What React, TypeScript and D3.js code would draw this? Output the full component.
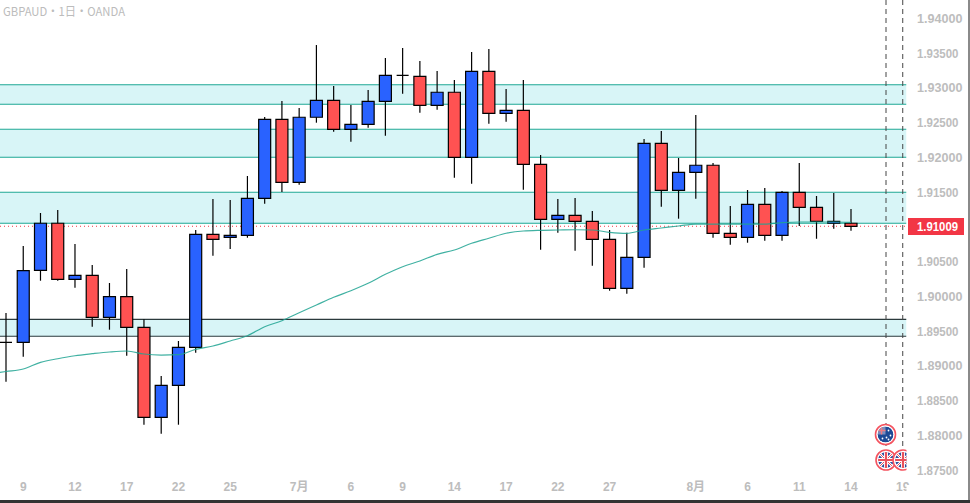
import React from 'react';
import * as d3 from 'd3';

// index of each candle, left to right (0 = first visible day)
const opens = [
  1.89338, 1.89338, 1.90375, 1.91052, 1.90245, 1.90303, 1.89698, 1.89995, 1.89554, 1.88258,
  1.88719, 1.89266, 1.90893, 1.90850, 1.90879, 1.91411, 1.92549, 1.91642, 1.92578, 1.92822,
  1.92405, 1.92477, 1.92808, 1.93182, 1.93168, 1.92750, 1.92938, 1.92002, 1.93240, 1.92635,
  1.92678, 1.91901, 1.91109, 1.91167, 1.91080, 1.90821, 1.90116, 1.90562, 1.92203, 1.91527,
  1.91786, 1.91887, 1.90908, 1.90850, 1.91325, 1.90879, 1.91498, 1.91282, 1.91052, 1.91052,
];
const closes = [
  1.89338, 1.90369, 1.91052, 1.90245, 1.90303, 1.89698, 1.89995, 1.89554, 1.88258, 1.88719,
  1.89266, 1.90893, 1.90821, 1.90879, 1.91411, 1.92549, 1.91642, 1.92578, 1.92822, 1.92405,
  1.92477, 1.92808, 1.93182, 1.93182, 1.92750, 1.92938, 1.92002, 1.93240, 1.92635, 1.92678,
  1.91901, 1.91109, 1.91167, 1.91080, 1.90821, 1.90116, 1.90562, 1.92203, 1.91527, 1.91786,
  1.91887, 1.90908, 1.90850, 1.91325, 1.90879, 1.91498, 1.91282, 1.91080, 1.91080, 1.91008,
];
const highs = [
  1.89760, 1.90725, 1.91200, 1.91243, 1.90754, 1.90451, 1.90192, 1.90394, 1.89669, 1.88853,
  1.89357, 1.90955, 1.91401, 1.91387, 1.91733, 1.92582, 1.92812, 1.92711, 1.93618, 1.93028,
  1.92755, 1.92971, 1.93431, 1.93575, 1.93388, 1.93244, 1.93115, 1.93518, 1.93561, 1.92985,
  1.93115, 1.92035, 1.91401, 1.91416, 1.91229, 1.90955, 1.90916, 1.92265, 1.92380, 1.91992,
  1.92611, 1.91920, 1.91301, 1.91531, 1.91560, 1.91517, 1.91920, 1.91445, 1.91488, 1.91257,
];
const lows = [
  1.88771, 1.89131, 1.90225, 1.90225, 1.90124, 1.89563, 1.89520, 1.89145, 1.88152, 1.88022,
  1.88152, 1.89189, 1.90585, 1.90682, 1.90844, 1.91334, 1.91502, 1.91607, 1.92500, 1.92370,
  1.92226, 1.92428, 1.92313, 1.92917, 1.92644, 1.92687, 1.91708, 1.91622, 1.92485, 1.92514,
  1.91535, 1.90671, 1.90916, 1.90657, 1.90441, 1.90081, 1.90038, 1.90412, 1.91291, 1.91118,
  1.91406, 1.90844, 1.90743, 1.90772, 1.90801, 1.90801, 1.91013, 1.90830, 1.90974, 1.90945,
];

// moving average, starts one day before the first candle
const maValues = [
  1.88883, 1.88918, 1.88954, 1.89050, 1.89102, 1.89145, 1.89174, 1.89199, 1.89213, 1.89170,
  1.89155, 1.89160, 1.89237, 1.89285, 1.89357, 1.89433, 1.89563, 1.89649, 1.89764, 1.89875,
  1.89986, 1.90081, 1.90188, 1.90317, 1.90427, 1.90509, 1.90605, 1.90667, 1.90764, 1.90836,
  1.90908, 1.90941, 1.90951, 1.90955, 1.90959, 1.90955, 1.90922, 1.90908, 1.90955, 1.90984,
  1.91013, 1.91041, 1.91041, 1.91041, 1.91041, 1.91041, 1.91060, 1.91070, 1.91070, 1.91070,
  1.91066,
];

const zones: [number, number, string][] = [
  [1.93047, 1.92765, '#1fa995'],
  [1.92405, 1.92002, '#1fa995'],
  [1.91498, 1.91052, '#1fa995'],
  [1.89669, 1.89425, '#2b3a3c'],
];

const priceTicks = ['1.94000', '1.93500', '1.93000', '1.92500', '1.92000', '1.91500', '1.90500', '1.90000', '1.89500', '1.89000', '1.88500', '1.88000', '1.87500'];
const timeTicks: [number, string][] = [
  [1, '9'], [4, '12'], [7, '17'], [10, '22'], [13, '25'], [17, '7月'], [20, '6'], [23, '9'],
  [26, '14'], [29, '17'], [32, '22'], [35, '27'], [40, '8月'], [43, '6'], [46, '11'], [49, '14'], [52, '19'],
];
const eventLines = [51.03, 52];
const lastPrice = 1.91009;

const width = 970;
const height = 503;
const plotRight = 906.5;
const axisFont = '"Liberation Sans", Arial, sans-serif';

const x = d3.scaleLinear().domain([0, 49]).range([6, 851]);
const y = d3.scaleLinear().domain([1.94, 1.875]).range([18.5, 470]);

function candlePath(i: number) {
  const p = d3.path();
  const cx = x(i);
  const top = y(Math.max(opens[i], closes[i]));
  const bottom = y(Math.min(opens[i], closes[i]));
  p.moveTo(cx - 6, top);
  p.lineTo(cx + 6, top);
  p.lineTo(cx + 6, bottom);
  p.lineTo(cx - 6, bottom);
  p.closePath();
  return p.toString();
}

function FlagUK({ cx, cy }: { cx: number; cy: number }) {
  const id = `uk${Math.round(cx)}`;
  return (
    <g>
      <clipPath id={id}><circle cx={cx} cy={cy} r={8} /></clipPath>
      <circle cx={cx} cy={cy} r={10} fill="#fff" stroke="#f4535f" strokeWidth={1.6} />
      <g clipPath={`url(#${id})`}>
        <circle cx={cx} cy={cy} r={8} fill="#2a4f9e" />
        <path d={`M${cx - 8} ${cy - 8}L${cx + 8} ${cy + 8}M${cx + 8} ${cy - 8}L${cx - 8} ${cy + 8}`} stroke="#fff" strokeWidth={2.6} />
        <path d={`M${cx - 8} ${cy - 8}L${cx + 8} ${cy + 8}M${cx + 8} ${cy - 8}L${cx - 8} ${cy + 8}`} stroke="#e8505b" strokeWidth={1} />
        <path d={`M${cx} ${cy - 8}V${cy + 8}M${cx - 8} ${cy}H${cx + 8}`} stroke="#fff" strokeWidth={4} />
        <path d={`M${cx} ${cy - 8}V${cy + 8}M${cx - 8} ${cy}H${cx + 8}`} stroke="#e8505b" strokeWidth={2.2} />
      </g>
    </g>
  );
}

function FlagAU({ cx, cy }: { cx: number; cy: number }) {
  const stars: [number, number][] = [[3, -4], [5, 1], [1, 3], [3, 5], [-3, 4]];
  const id = 'au0';
  return (
    <g>
      <clipPath id={id}><circle cx={cx} cy={cy} r={8} /></clipPath>
      <circle cx={cx} cy={cy} r={10} fill="#fff" stroke="#f4535f" strokeWidth={1.6} />
      <g clipPath={`url(#${id})`}>
        <circle cx={cx} cy={cy} r={8} fill="#1d4a96" />
        <rect x={cx - 8} y={cy - 8} width={8} height={8} fill="#7d8dbd" />
        <path d={`M${cx - 8} ${cy - 4}H${cx}M${cx - 4} ${cy - 8}V${cy}`} stroke="#ee7a80" strokeWidth={1.5} />
        {stars.map(([dx, dy], i) => (
          <circle key={i} cx={cx + dx} cy={cy + dy} r={0.9} fill="#fff" />
        ))}
      </g>
    </g>
  );
}

export default function App() {
  const maLine = d3.line<number>()
    .x((_, i) => x(i - 1))
    .y(d => y(d))
    .curve(d3.curveMonotoneX);

  return (
    <svg width={width} height={height} style={{ position: 'absolute', left: 0, top: 0, display: 'block', background: '#fff' }}>
      <defs>
        <clipPath id="plot"><rect x={0} y={0} width={plotRight} height={height} /></clipPath>
      </defs>

      <text x={3} y={16} fontFamily='"Noto Sans CJK JP", sans-serif' fontSize={12} fill="#bcbcbc" textLength={122} lengthAdjust="spacingAndGlyphs">GBPAUD・1日・OANDA</text>

      <g clipPath="url(#plot)">
        {zones.map(([a, b, c], i) => (
          <g key={i}>
            <rect x={0} y={y(a)} width={plotRight} height={y(b) - y(a)} fill="#d8f5f7" />
            <line x1={0} x2={plotRight} y1={y(a)} y2={y(a)} stroke={c} strokeWidth={1.1} />
            <line x1={0} x2={plotRight} y1={y(b)} y2={y(b)} stroke={c} strokeWidth={1.1} />
          </g>
        ))}

        {eventLines.map(d => (
          <line key={d} x1={x(d)} x2={x(d)} y1={0} y2={450} stroke="#444" strokeWidth={1} strokeDasharray="5 4" />
        ))}

        <line x1={0} x2={plotRight} y1={y(lastPrice)} y2={y(lastPrice)} stroke="#f23645" strokeWidth={1} strokeDasharray="1 3" />

        {opens.map((o, i) => (
          <g key={i}>
            <line x1={x(i)} x2={x(i)} y1={y(highs[i])} y2={y(lows[i])} stroke="#000" strokeWidth={1.2} />
            <path d={candlePath(i)} fill={closes[i] >= o ? '#2962ff' : '#ff5252'} stroke="#000" strokeWidth={1.2} />
          </g>
        ))}

        <path d={maLine(maValues) ?? ''} fill="none" stroke="#1fa392" strokeWidth={1.2} opacity={0.85} />

        <FlagAU cx={885.5} cy={434.5} />
        <FlagUK cx={886} cy={460} />
        <FlagUK cx={903} cy={460} />
      </g>

      {priceTicks.map(t => (
        <text key={t} x={917} y={y(+t) + 4.5} fontFamily={axisFont} fontSize={12.5} fontWeight={700} fill="#bdbdbd"
          textLength={t.endsWith('500') ? 41.5 : 45.5} lengthAdjust="spacingAndGlyphs">
          {t}
        </text>
      ))}

      <rect x={908} y={218} width={56} height={17} fill="#f23645" />
      <text x={917} y={y(lastPrice) + 4.5} fontFamily={axisFont} fontSize={12.5} fontWeight={700} fill="#fff" textLength={41} lengthAdjust="spacingAndGlyphs">
        {lastPrice.toFixed(5)}
      </text>

      {timeTicks.map(([d, label]) => (
        <text key={label + d} x={x(d)} y={491} textAnchor="middle" fontFamily='"Liberation Sans", "Noto Sans CJK JP", sans-serif' fontSize={12} fontWeight={700} fill="#bdbdbd">
          {label}
        </text>
      ))}

      <rect x={906.5} y={485} width={12} height={15} fill="#fff" />
      <rect x={968} y={0} width={2} height={503} fill="#8a8a8a" />
      <rect x={0} y={500} width={970} height={3} fill="#333" />
    </svg>
  );
}
